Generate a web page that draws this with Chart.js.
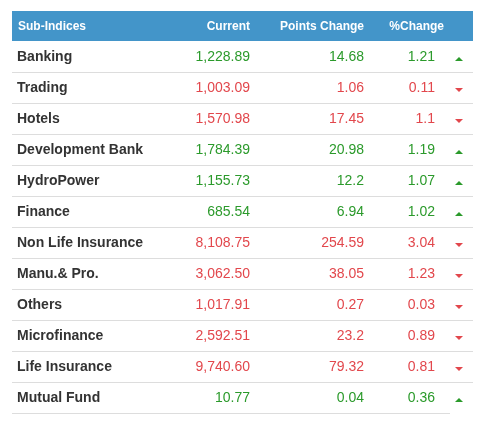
<!DOCTYPE html>
<html lang="en">
<head>
    <meta charset="UTF-8">
    <title>Sub-Indices</title>
    <script src="https://cdn.jsdelivr.net/npm/chart.js"></script>
    <style>
        body {
            margin: 0;
            background-color: white;
        }
        #tableChart {
            display: block;
        }
    </style>
</head>
<body>
    <canvas id="tableChart" width="485" height="422"></canvas>
    <script>
        // table data
        const subIndices = ['Banking', 'Trading', 'Hotels', 'Development Bank', 'HydroPower', 'Finance',
            'Non Life Insurance', 'Manu.& Pro.', 'Others', 'Microfinance', 'Life Insurance', 'Mutual Fund'];
        const currentValues = [1228.89, 1003.09, 1570.98, 1784.39, 1155.73, 685.54,
            8108.75, 3062.50, 1017.91, 2592.51, 9740.60, 10.77];
        const pointsChange = [14.68, 1.06, 17.45, 20.98, 12.2, 6.94, 254.59, 38.05, 0.27, 23.2, 79.32, 0.04];
        const percentChange = [1.21, 0.11, 1.1, 1.19, 1.07, 1.02, 3.04, 1.23, 0.03, 0.89, 0.81, 0.36];
        const direction = ['up', 'down', 'down', 'up', 'up', 'up', 'down', 'down', 'down', 'down', 'down', 'up'];
        const headers = ['Sub-Indices', 'Current', 'Points Change', '%Change'];

        const GREEN = '#2b9a2b';
        const RED = '#e2474c';
        const HEADER_BG = '#4395c9';

        // column x positions (pixels along the x scale)
        const COL = { name: 17, current: 250, points: 364, pct: 435, arrow: 459 };
        const HEAD_X = [18, 250, 364, 444];

        function arrowImage(up, color) {
            const c = document.createElement('canvas');
            c.width = 8;
            c.height = 10;
            const g = c.getContext('2d');
            g.fillStyle = color;
            g.beginPath();
            if (up) {
                g.moveTo(0, 9); g.lineTo(8, 9); g.lineTo(4, 5);
            } else {
                g.moveTo(0, 5); g.lineTo(8, 5); g.lineTo(4, 9);
            }
            g.closePath();
            g.fill();
            return c;
        }
        const upArrow = arrowImage(true, GREEN);
        const downArrow = arrowImage(false, RED);

        function fmt(v) {
            return v.toLocaleString('en-US', { minimumFractionDigits: 2, maximumFractionDigits: 2 });
        }

        const tablePlugin = {
            id: 'tablePlugin',
            beforeDraw(chart) {
                const ctx = chart.ctx;
                const x = chart.scales.x;
                ctx.save();
                ctx.fillStyle = HEADER_BG;
                ctx.fillRect(12, 11, 461, 30);
                ctx.fillStyle = '#ffffff';
                ctx.font = 'bold 12px "Liberation Sans", Arial, sans-serif';
                ctx.textBaseline = 'middle';
                headers.forEach((h, i) => {
                    ctx.textAlign = i === 0 ? 'left' : 'right';
                    ctx.fillText(h, x.getPixelForValue(HEAD_X[i]), 26.5);
                });
                ctx.restore();
            },
            afterDatasetsDraw(chart) {
                const ctx = chart.ctx;
                const x = chart.scales.x;
                const y = chart.scales.y;
                const half = (y.getPixelForValue(1) - y.getPixelForValue(0)) / 2;
                ctx.save();
                ctx.strokeStyle = '#dddddd';
                ctx.lineWidth = 1;
                subIndices.forEach((name, i) => {
                    const yy = y.getPixelForValue(i);
                    const lineY = Math.round(yy + half) - 0.5;
                    const right = i === subIndices.length - 1 ? 450 : 473;
                    ctx.beginPath();
                    ctx.moveTo(12, lineY);
                    ctx.lineTo(right, lineY);
                    ctx.stroke();

                    ctx.textBaseline = 'middle';
                    ctx.textAlign = 'left';
                    ctx.fillStyle = '#333333';
                    ctx.font = 'bold 14px "Liberation Sans", Arial, sans-serif';
                    ctx.fillText(name, x.getPixelForValue(COL.name), yy);

                    ctx.textAlign = 'right';
                    ctx.font = '14px "Liberation Sans", Arial, sans-serif';
                    ctx.fillStyle = direction[i] === 'up' ? GREEN : RED;
                    ctx.fillText(fmt(currentValues[i]), x.getPixelForValue(COL.current), yy);
                    ctx.fillText(String(pointsChange[i]), x.getPixelForValue(COL.points), yy);
                    ctx.fillText(String(percentChange[i]), x.getPixelForValue(COL.pct), yy);
                });
                ctx.restore();
            }
        };

        new Chart(document.getElementById('tableChart'), {
            type: 'scatter',
            data: {
                datasets: [{
                    label: 'Direction',
                    data: subIndices.map(name => ({ x: COL.arrow, y: name })),
                    pointStyle: direction.map(d => d === 'up' ? upArrow : downArrow),
                    radius: 4
                }]
            },
            options: {
                responsive: false,
                animation: false,
                layout: { autoPadding: false, padding: { top: 41.5, bottom: 8.5, left: 0, right: 0 } },
                plugins: {
                    legend: { display: false },
                    tooltip: { enabled: false }
                },
                scales: {
                    x: { type: 'linear', min: 0, max: 485, display: false },
                    y: { type: 'category', labels: subIndices, offset: true, display: false }
                }
            },
            plugins: [tablePlugin]
        });
    </script>
</body>
</html>
